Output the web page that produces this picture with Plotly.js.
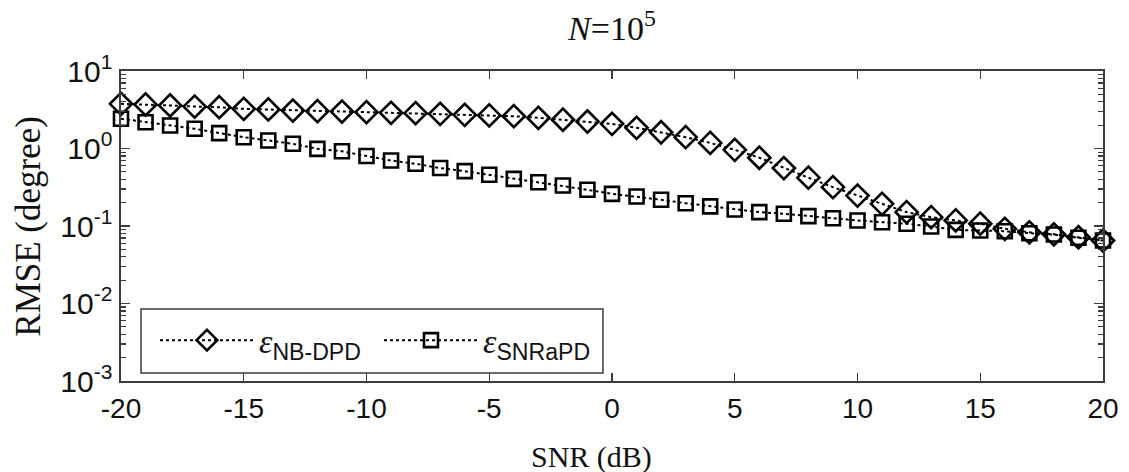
<!DOCTYPE html>
<html>
<head>
<meta charset="utf-8">
<script src="https://cdn.plot.ly/plotly-3.0.1.min.js"></script>
<style>
  html, body { margin: 0; padding: 0; background: #ffffff; }
  #chart { width: 1129px; height: 472px; }
</style>
</head>
<body>
<div id="chart"></div>
<script>
// SNR grid (dB)
const snrDb = [-20, -19, -18, -17, -16, -15, -14, -13, -12, -11, -10,
               -9, -8, -7, -6, -5, -4, -3, -2, -1, 0,
               1, 2, 3, 4, 5, 6, 7, 8, 9, 10,
               11, 12, 13, 14, 15, 16, 17, 18, 19, 20];

// RMSE (degree) of the NB-DPD estimator
const rmseNbDpd = [3.77, 3.70, 3.59, 3.48, 3.41, 3.25, 3.19, 3.09, 3.03, 3.00, 2.94,
                   2.89, 2.86, 2.80, 2.72, 2.67, 2.61, 2.49, 2.35, 2.23, 2.08,
                   1.85, 1.62, 1.40, 1.18, 0.96, 0.76, 0.56, 0.42, 0.317, 0.247,
                   0.193, 0.151, 0.130, 0.118, 0.107, 0.092, 0.083, 0.078, 0.0716, 0.065];

// RMSE (degree) of the SNRaPD estimator
const rmseSnrapd = [2.42, 2.18, 1.98, 1.80, 1.58, 1.40, 1.27, 1.15, 0.99, 0.92, 0.80,
                    0.70, 0.635, 0.56, 0.51, 0.458, 0.406, 0.367, 0.333, 0.293, 0.26,
                    0.24, 0.218, 0.197, 0.179, 0.163, 0.151, 0.144, 0.134, 0.126, 0.118,
                    0.112, 0.107, 0.0985, 0.089, 0.0875, 0.0857, 0.0807, 0.0776, 0.0705, 0.065];

// Axis tick labels
const xTickVals = [-20, -15, -10, -5, 0, 5, 10, 15, 20];
const xTickText = ['-20', '-15', '-10', '-5', '0', '5', '10', '15', '20'];
const yTickVals = [0.001, 0.01, 0.1, 1, 10];
const yTickText = ['10<sup>-3</sup>', '10<sup>-2</sup>', '10<sup>-1</sup>', '10<sup>0</sup>', '10<sup>1</sup>'];

// Minor log ticks 2..9 in every decade
const yMinorVals = [];
for (let e = -3; e < 1; e++) {
  for (let m = 2; m <= 9; m++) yMinorVals.push(m * Math.pow(10, e));
}

const AXIS_COLOR = '#3c3c3c';
const SANS = 'Liberation Sans';
const SERIF = 'Liberation Serif';

const legendName = sub =>
  '<span style="font-family:Liberation Serif;font-style:italic;font-size:34px">\u03b5</span><sub>' + sub + '</sub>';

const lineStyle = { color: '#000000', width: 2, dash: 'dot' };

const traces = [
  {
    x: snrDb, y: rmseNbDpd, type: 'scatter', mode: 'lines+markers',
    name: legendName('NB-DPD'),
    line: lineStyle,
    marker: { symbol: 'diamond-open', size: 17, color: '#000000', line: { width: 2.6, color: '#000000' } },
    cliponaxis: false
  },
  {
    x: snrDb, y: rmseSnrapd, type: 'scatter', mode: 'lines+markers',
    name: legendName('SNRaPD'),
    line: lineStyle,
    marker: { symbol: 'square-open', size: 14, color: '#000000', line: { width: 2.6, color: '#000000' } },
    cliponaxis: false
  }
];

// Legend frame (paper coordinates of the plot area)
const legendBox = { x0: 0.0204, x1: 0.4908, y0: 0.0258, y1: 0.232 };

const layout = {
  width: 1129, height: 472,
  paper_bgcolor: '#ffffff', plot_bgcolor: '#ffffff',
  margin: { l: 121, r: 26, t: 71, b: 91, pad: 0 },
  showlegend: true,
  title: {
    text: '<i>N</i>=10<sup>5</sup>',
    font: { family: SERIF, size: 34, color: '#111111' },
    x: 0.542, xanchor: 'center', xref: 'container',
    y: 0.94, yanchor: 'middle', yref: 'container'
  },
  xaxis: {
    range: [-20, 20],
    tickmode: 'array', tickvals: xTickVals, ticktext: xTickText,
    ticks: 'inside', ticklen: 8, tickwidth: 1.3, tickcolor: AXIS_COLOR,
    showline: true, linecolor: AXIS_COLOR, linewidth: 1.6, mirror: 'ticks',
    showgrid: false, zeroline: false,
    tickfont: { family: SANS, size: 28, color: '#111111' },
    ticklabelstandoff: 2
  },
  yaxis: {
    type: 'log', range: [-3, 1],
    tickmode: 'array', tickvals: yTickVals, ticktext: yTickText,
    ticks: 'inside', ticklen: 9, tickwidth: 1.3, tickcolor: AXIS_COLOR,
    minor: { tickmode: 'array', tickvals: yMinorVals, ticks: 'inside', ticklen: 5, tickwidth: 1.1, tickcolor: AXIS_COLOR, showgrid: false },
    showline: true, linecolor: AXIS_COLOR, linewidth: 1.6, mirror: 'ticks',
    showgrid: false, zeroline: false,
    tickfont: { family: SANS, size: 30, color: '#111111' },
    ticklabelstandoff: 1
  },
  legend: {
    orientation: 'h',
    x: 0.0346, xanchor: 'left', y: 0.222, yanchor: 'top',
    bgcolor: 'rgba(0,0,0,0)', borderwidth: 0,
    font: { family: SANS, size: 33, color: '#111111' },
    itemwidth: 94, entrywidth: 115
  },
  shapes: [
    {
      type: 'rect', xref: 'paper', yref: 'paper', layer: 'below',
      x0: legendBox.x0, x1: legendBox.x1, y0: legendBox.y0, y1: legendBox.y1,
      line: { color: AXIS_COLOR, width: 1.5 }, fillcolor: '#ffffff'
    }
  ],
  annotations: [
    {
      text: 'SNR (dB)', xref: 'paper', yref: 'paper',
      x: 0.479, y: -0.245, xanchor: 'center', yanchor: 'middle', showarrow: false,
      font: { family: SERIF, size: 30, color: '#111111' }
    },
    {
      text: 'RMSE (degree)', xref: 'paper', yref: 'paper',
      x: -0.095, y: 0.5, xanchor: 'center', yanchor: 'middle', showarrow: false, textangle: -90,
      font: { family: SERIF, size: 35, color: '#111111' }
    }
  ]
};

Plotly.newPlot('chart', traces, layout, { staticPlot: true, displayModeBar: false });
</script>
</body>
</html>
